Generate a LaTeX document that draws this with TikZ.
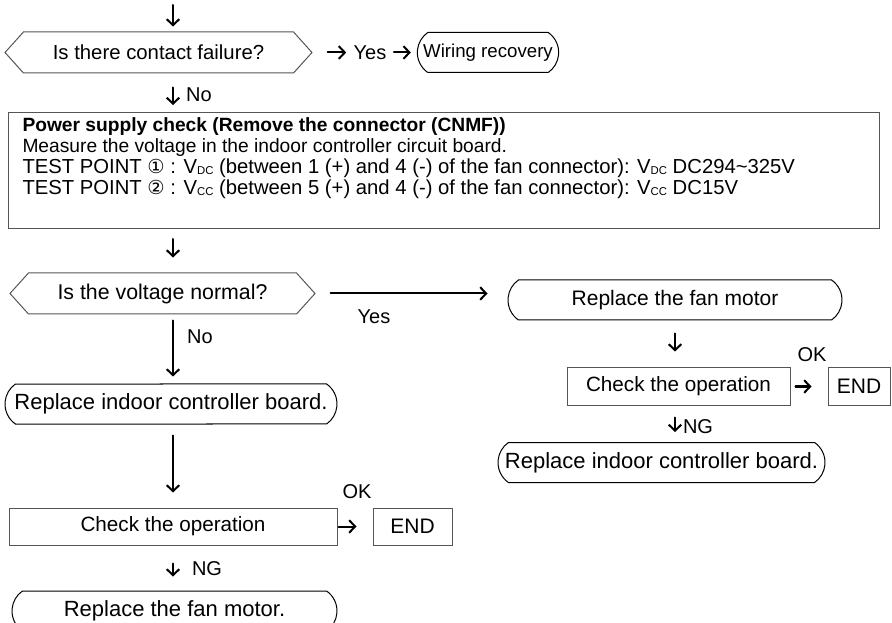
\documentclass[tikz,border=0pt]{standalone}
\usepackage{fontspec}
\setmainfont{Liberation Sans}
\newfontfamily\symfont{DejaVu Sans}
\usetikzlibrary{shapes.misc,shapes.symbols,arrows.meta}

\definecolor{boxgray}{RGB}{85,85,85}
\newcommand{\sV}[1]{V\raisebox{-0.1ex}{\fontsize{8.5}{8.5}\selectfont #1}}
\newcommand{\fsz}[1]{\fontsize{#1}{15.75}\selectfont}

\tikzset{every picture/.style={line width=0.75pt}}
\tikzset{
  every node/.style={font=\fsz{15.75pt}},
  decide/.style={signal, signal to=west and east, signal pointer angle=96,
    draw=boxgray, inner sep=0pt, minimum height=30.75pt},
  term/.style={rounded rectangle, rounded rectangle arc length=110,
    draw=black, inner sep=0pt, minimum height=30pt},
  stepbox/.style={rectangle, draw=boxgray, inner sep=0pt, minimum height=27.75pt},
  lbl/.style={inner sep=0pt, font=\fsz{15pt}},
  flow/.style={-{Straight Barb[length=4.5pt,width=9.5pt]}, line width=1.5pt, line cap=round}
}

\begin{document}
\begin{tikzpicture}[x=0.75pt,y=0.75pt,yscale=-1,xscale=1]
\path[use as bounding box] (0,0) rectangle (892,623);
\clip (0,0) rectangle (892,623);

%Coordinates of the two columns
\coordinate (start) at (173,5);
\coordinate (spine) at (173,0);
\coordinate (spineR) at (675,0);

%Shape: Decision (contact)
\node[decide, minimum width=230.25pt, font=\fsz{15.25pt}] (q1) at (158.5,52.5) {Is there contact failure?};
% Text Node
\node[lbl] (yes1) at (370,52.5) {Yes};
%Shape: Terminal (wiring)
\node[term, minimum width=106pt, font=\fsz{14pt}] (wiring) at (488,52.5) {Wiring recovery};
% Text Node
\node[lbl] (no1) at (199,95) {No};

%Shape: Rectangle (power check)
\node[rectangle, draw=boxgray, anchor=north west, inner sep=0pt,
  minimum width=653.25pt, minimum height=87pt] (power) at (8,112) {};
% Text Node
\node[lbl, anchor=north west, align=left, font=\fsz{14.4pt}] (powertext) at (22,117) {%
  \textbf{Power supply check (Remove the connector (CNMF))}\\
  Measure the voltage in the indoor controller circuit board.\\
  \fsz{15.2pt}TEST POINT {\symfont\fontsize{14.5}{14.5}\selectfont ①} : \sV{DC} (between 1 (+) and 4 (-) of the fan connector): \sV{DC} DC294\textasciitilde325V\\
  \fsz{15.2pt}TEST POINT {\symfont\fontsize{14.5}{14.5}\selectfont ②} : \sV{CC} (between 5 (+) and 4 (-) of the fan connector): \sV{CC} DC15V};

%Shape: Decision (voltage)
\node[decide, minimum width=228.75pt, font=\fsz{16pt}] (q2) at (162.5,293.5) {Is the voltage normal?};
% Text Node
\node[lbl] (yes2) at (374,317) {Yes};
\node[lbl] (no2) at (200,337) {No};

%Left branch
\node[term, minimum width=249pt, font=\fsz{16.5pt}] (boardL) at (171,404) {Replace indoor controller board.};
\node[stepbox, minimum width=246pt, font=\fsz{15.5pt}] (checkL) at (173,526.5) {Check the operation};
\node[stepbox, minimum width=59.25pt] (endL) at (412.5,526.5) {END};
\node[lbl] (okL) at (357,492) {OK};
\node[lbl] (ngL) at (207,569) {NG};
\node[term, minimum width=243.75pt, font=\fsz{16.5pt}] (fanL) at (174.5,611) {Replace the fan motor.};

%Right branch
\node[term, minimum width=250.5pt] (fanR) at (675,300) {Replace the fan motor};
\node[stepbox, minimum width=167.25pt, font=\fsz{15.5pt}] (checkR) at (678.5,386.5) {Check the operation};
\node[stepbox, minimum width=46.5pt] (endR) at (859,386.5) {END};
\node[lbl] (okR) at (812,355) {OK};
\node[lbl] (ngR) at (698,427) {NG};
\node[term, minimum width=245.25pt, font=\fsz{16.5pt}] (boardR) at (661.5,462.5) {Replace indoor controller board.};

%Straight Lines
\draw[flow, shorten >=3.75pt] (start) -- (q1.north -| spine);
\draw[flow, shorten <=11.25pt, shorten >=5.25pt] (q1.east) -- (yes1.west);
\draw[flow, shorten <=5.25pt, shorten >=4.5pt] (yes1.east) -- (wiring.west);
\draw[flow, shorten <=10.5pt, shorten >=5.25pt] (q1.south -| spine) -- (power.north -| spine);
\draw[flow, shorten <=7.5pt, shorten >=11.25pt] (power.south -| spine) -- (q2.north -| spine);
\draw[flow, shorten <=11.25pt, shorten >=15pt] (q2.east) -- (q2.east -| fanR.west);
\draw[flow, shorten <=4.5pt, shorten >=5.25pt] (q2.south -| spine) -- (boardL.north -| spine);
\draw[flow, shorten <=8.25pt, shorten >=11.25pt] (boardL.south -| spine) -- (checkL.north -| spine);
\draw[flow, shorten <=0.75pt, shorten >=12pt] (checkL.east) -- (endL.west);
\draw[flow, shorten <=13.5pt, shorten >=10.5pt] (checkL.south -| spine) -- (fanL.north -| spine);
\draw[flow, shorten <=9.75pt, shorten >=12pt] (fanR.south -| spineR) -- (checkR.north -| spineR);
\draw[flow, shorten <=3.75pt, shorten >=12pt] (checkR.east) -- (endR.west);
\draw[flow, shorten <=9pt, shorten >=7.5pt] (checkR.south -| spineR) -- (boardR.north -| spineR);
\end{tikzpicture}
\end{document}
